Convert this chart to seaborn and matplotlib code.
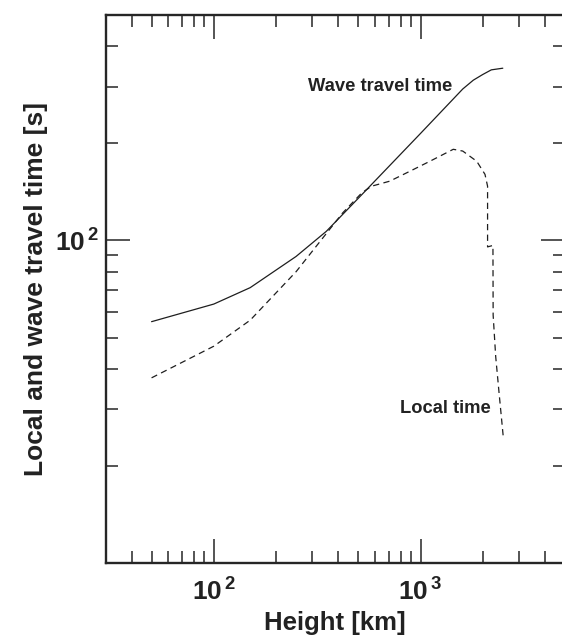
import numpy as np
import pandas as pd
import seaborn as sns
import matplotlib
matplotlib.use("Agg")
import matplotlib.pyplot as plt
from matplotlib.ticker import FixedLocator, FixedFormatter, NullFormatter

# ---- data ----
wave_height = [50, 100, 150, 250, 350, 520, 1000, 1600, 1800, 2000, 2200, 2500]
wave_time = [56, 63.5, 71.4, 89.2, 106.7, 138.7, 214.7, 294.8, 314, 327, 338, 342]

local_height = [50, 100, 150, 250, 420, 520, 580, 710, 890, 1110, 1440, 1600,
                1870, 2050, 2110, 2110, 2240, 2245, 2310, 2400, 2510]
local_time = [37.5, 47, 56.6, 80, 121.7, 140.5, 147.3, 152.7, 164, 176, 191.7, 189.3,
              176, 160.3, 147.3, 95.5, 96.5, 58.7, 43.6, 33.5, 24.8]

x_major = [100, 1000]
x_major_labels = [r'$\mathbf{10^{\,2}}$', r'$\mathbf{10^{\,3}}$']
y_major = [100]
y_major_labels = [r'$\mathbf{10^{\,2}}$']

sns.set_style("ticks")
plt.rcParams['font.family'] = ['Liberation Sans', 'DejaVu Sans']
plt.rcParams['mathtext.fontset'] = 'custom'
plt.rcParams['mathtext.rm'] = 'Liberation Sans:bold'
plt.rcParams['mathtext.bf'] = 'Liberation Sans:bold'

fig = plt.figure(figsize=(5.62, 6.44), dpi=100)
ax = fig.add_axes([0.1881, 0.1258, 0.8173, 0.8509])

wave_df = pd.DataFrame({'h': wave_height, 't': wave_time})
local_df = pd.DataFrame({'h': local_height, 't': local_time})

ink = '#1e1e1e'
sns.lineplot(data=wave_df, x='h', y='t', ax=ax, sort=False, estimator=None,
             color=ink, lw=0.9)
sns.lineplot(data=local_df, x='h', y='t', ax=ax, sort=False, estimator=None,
             color=ink, lw=0.9, dashes=False, linestyle=(0, (5, 3.5)))

ax.set_xscale('log')
ax.set_yscale('log')
ax.set_xlim(30, 5000)
ax.set_ylim(10, 500)

ax.xaxis.set_major_locator(FixedLocator(x_major))
ax.xaxis.set_major_formatter(FixedFormatter(x_major_labels))
ax.xaxis.set_minor_locator(FixedLocator([40, 50, 60, 70, 80, 90, 200, 300, 400, 500,
                                         600, 700, 800, 900, 2000, 3000, 4000]))
ax.xaxis.set_minor_formatter(NullFormatter())
ax.yaxis.set_major_locator(FixedLocator(y_major))
ax.yaxis.set_major_formatter(FixedFormatter(y_major_labels))
ax.yaxis.set_minor_locator(FixedLocator([20, 30, 40, 50, 60, 70, 80, 90, 200, 300, 400]))
ax.yaxis.set_minor_formatter(NullFormatter())

spine_c = '#262626'
for s in ax.spines.values():
    s.set_linewidth(1.7)
    s.set_color(spine_c)

ax.tick_params(which='both', direction='in', top=True, right=True, color=spine_c)
ax.tick_params(which='major', length=17.5, width=1.1, labelsize=19,
               labelcolor='#222222')
ax.tick_params(which='minor', length=8.6, width=1.1)
ax.tick_params(axis='y', which='major', pad=4.5)
ax.tick_params(axis='x', which='major', pad=11)

ax.set_xlabel('Height [km]', fontsize=18.5, fontweight='bold', color='#222222',
              labelpad=4)
ax.set_ylabel('Local and wave travel time [s]', fontsize=19, fontweight='bold',
              color='#222222', labelpad=5)

ax.text(635, 301, 'Wave travel time', fontsize=13.2, fontweight='bold',
        color='#222222', ha='center', va='center')
ax.text(1315, 30.1, 'Local time', fontsize=13.2, fontweight='bold',
        color='#222222', ha='center', va='center')

ax.grid(False)
fig.savefig('out.png', dpi=100)
